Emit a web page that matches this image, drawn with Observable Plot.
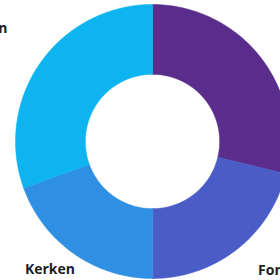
<!DOCTYPE html>
<html><head><meta charset="utf-8">
<script src="https://cdn.jsdelivr.net/npm/d3@7"></script>
<script src="https://cdn.jsdelivr.net/npm/@observablehq/plot@0.6"></script>
<style>html,body{margin:0;padding:0;background:#fff;overflow:hidden}</style>
</head><body><div id="chart"></div>
<script>
const categories = ["Bedrijven", "Fondsen", "Kerken", "Particulieren"];
const values = [28.8, 21.2, 19.5, 30.5];
const colors = ["#5a2d8c", "#4a5cc6", "#2f8fe2", "#0db4f0"];

// label layout (style config, not data)
const labelLayout = {
  Bedrijven: {anchor: "start", dx: 0, dy: 0},
  Fondsen: {anchor: "start", dx: 4, dy: 0},
  Kerken: {anchor: "middle", dx: -8, dy: -6},
  Particulieren: {anchor: "end", dx: 3, dy: -9}
};

const inner = 0.49, outer = 1, labelR = 1.2;
const pie = d3.pie().sort(null).value(d => d.value);
const arcs = pie(categories.map((name, i) => ({name, value: values[i]})));

const pts = [];
for (const a of arcs) {
  const n = 90;
  for (let k = 0; k <= n; k++) {
    const t = a.startAngle + (a.endAngle - a.startAngle) * k / n;
    pts.push({name: a.data.name, x: outer * Math.sin(t), y: outer * Math.cos(t)});
  }
  for (let k = n; k >= 0; k--) {
    const t = a.startAngle + (a.endAngle - a.startAngle) * k / n;
    pts.push({name: a.data.name, x: inner * Math.sin(t), y: inner * Math.cos(t)});
  }
}
const labels = arcs.map(a => {
  const m = (a.startAngle + a.endAngle) / 2;
  const r = a.data.name === "Particulieren" ? 1.32 : labelR;
  return {name: a.data.name, x: r * Math.sin(m), y: r * Math.cos(m), ...labelLayout[a.data.name]};
});

const textMarks = labels.map(d => Plot.text([d], {
  x: "x", y: "y", text: "name", textAnchor: d.anchor, dx: d.dx, dy: d.dy,
  fontSize: 14, fontWeight: "bold", fill: "#1e1e1e"
}));

const chart = Plot.plot({
  width: 280, height: 280,
  margin: 0,
  x: {domain: [-1, 1], range: [15, 289], axis: null},
  y: {domain: [-1, 1], range: [278, 4], axis: null},
  color: {domain: categories, range: colors},
  style: {fontFamily: "'Open Sans', sans-serif"},
  marks: [
    Plot.line(pts, {x: "x", y: "y", z: "name", fill: "name", stroke: "name", strokeWidth: 0.5, curve: "linear-closed"}),
    ...textMarks
  ]
});
document.getElementById("chart").appendChild(chart);
</script></body></html>
